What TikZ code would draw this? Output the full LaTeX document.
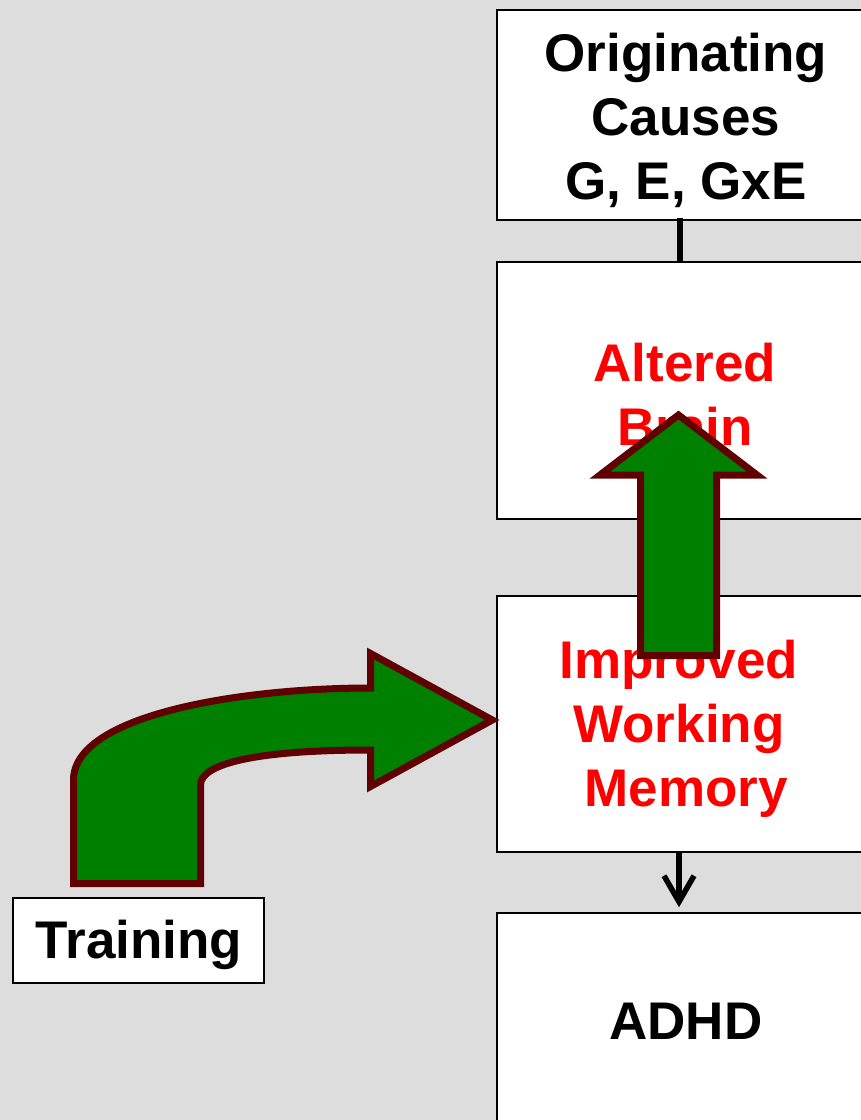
\documentclass[tikz,border=0pt]{standalone}
\usepackage{fontspec}
\setmainfont{Liberation Sans}
\usetikzlibrary{arrows.meta}
\definecolor{bg}{HTML}{DDDDDD}
\definecolor{arrowfill}{HTML}{008000}
\definecolor{arrowedge}{HTML}{600000}
\definecolor{hot}{HTML}{FF0000}
\tikzset{
  stage/.style={draw=black, line width=1.5pt, fill=white, minimum width=378pt,
    align=center, font=\fontsize{53}{64}\selectfont\bfseries, inner sep=0pt},
  smallbox/.style={draw=black, line width=1.5pt, fill=white, minimum width=251pt,
    minimum height=85pt, font=\fontsize{53}{64}\selectfont\bfseries, inner sep=0pt},
  label/.style={align=center, font=\fontsize{53}{64}\selectfont\bfseries, inner sep=0pt},
  bigarrow/.style={fill=arrowfill, draw=arrowedge, line width=7pt, miter limit=10},
  link/.style={line width=5.5pt, black}
}
\begin{document}
\begin{tikzpicture}[x=1pt, y=-1pt]
  \clip (0,0) rectangle (861,1120);
  \fill[bg] (0,0) rectangle (861,1120);

  % stages of the causal chain
  \node[stage, minimum height=210pt] (causes) at (686,115) {};
  \node[stage, minimum height=257pt] (brain) at (686,390.5) {};
  \node[stage, minimum height=256pt] (wm) at (686,724) {};
  \node[stage, minimum height=214pt] (adhd) at (686,1020) {};
  \node[smallbox] (train) at (138.5,940.5) {};

  % stage labels
  \node[label] (causestext) at (686,120) {Originating\\Causes\\G, E, GxE};
  \node[label, text=hot] (braintext) at (685,395) {Altered\\Brain};
  \node[label, text=hot] (wmtext) at (679,729)
    {Improved\\Working\\\hspace*{14.7pt}Memory};
  \node[label] (adhdtext) at (686,1021) {ADHD};
  \node[label] (traintext) at (139,945) {Training};

  % links between stages (yshift is in page units, so positive moves up)
  \draw[link] ([xshift=-6pt,yshift=3pt]causes.south) -- ([xshift=-6pt]brain.north);
  \draw[link, -{Straight Barb[length=26pt, width=30pt]}]
    ([xshift=-7pt]wm.south) -- ([xshift=-7pt,yshift=5pt]adhd.north);

  % bent arrow from training into working memory
  \coordinate (tipwm) at (wm.west |- 0,720);
  \draw[bigarrow]
    (73.5,883.5) -- (73.5,780)
    .. controls (73.5,715) and (240,688) .. (370.5,688)
    -- (370.5,653.5) -- ([xshift=-4pt]tipwm) -- (370.5,786.5) -- (370.5,750)
    .. controls (250,750) and (200.5,765) .. (200.5,785)
    -- (200.5,883.5) -- cycle;

  % upward arrow from working memory to brain
  \draw[bigarrow]
    (640.5,655.5) -- (640.5,475) -- (600,475) -- (678.5,415)
    -- (757,475) -- (716.5,475) -- (716.5,655.5) -- cycle;
\end{tikzpicture}
\end{document}
